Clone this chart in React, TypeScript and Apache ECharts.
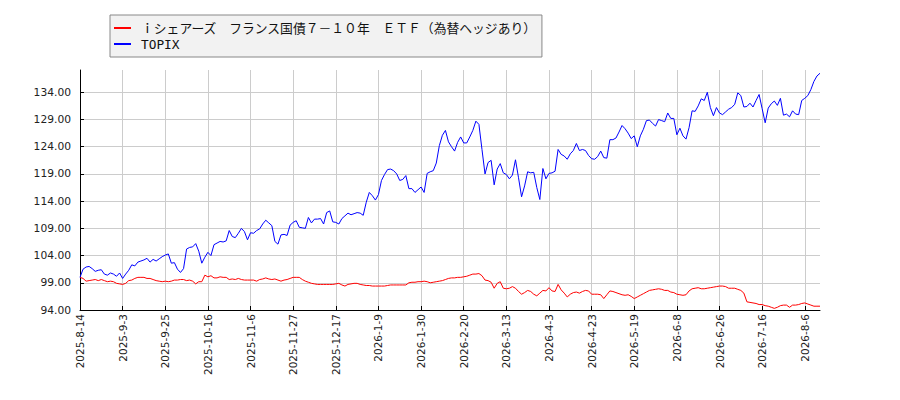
import { useEffect, useRef } from "react";
import * as echarts from "echarts";

// trading calendar (TSE): weekdays minus market holidays
const startDate = "2025-08-14";
const endDate = "2026-08-14";
const holidays = [
  "2025-09-15", "2025-09-23", "2025-10-13", "2025-11-03", "2025-11-24",
  "2025-12-31", "2026-01-01", "2026-01-02", "2026-01-12", "2026-02-11",
  "2026-02-23", "2026-03-20", "2026-04-29", "2026-05-04", "2026-05-05",
  "2026-05-06", "2026-07-20", "2026-08-11",
];

const buildDates = () => {
  const out: string[] = [];
  const day = 86400000;
  const end = Date.parse(endDate + "T00:00:00Z");
  for (let t = Date.parse(startDate + "T00:00:00Z"); t <= end; t += day) {
    const d = new Date(t);
    const wd = d.getUTCDay();
    if (wd === 0 || wd === 6) continue;
    const iso = d.toISOString().slice(0, 10);
    if (holidays.includes(iso)) continue;
    out.push(`${d.getUTCFullYear()}-${d.getUTCMonth() + 1}-${d.getUTCDate()}`);
  }
  return out;
};
const dates = buildDates();

const etfName = "ｉシェアーズ　フランス国債７－１０年　ＥＴＦ（為替ヘッジあり）";
const topixName = "TOPIX";

const etfValues = [
  100.0, 99.8, 99.3, 99.4, 99.5, 99.6, 99.4, 99.6, 99.4, 99.2,
  99.3, 99.2, 98.9, 98.8, 98.7, 98.9, 99.4, 99.5, 99.8, 100.0,
  100.0, 100.0, 99.8, 99.8, 99.6, 99.4, 99.3, 99.2, 99.3, 99.2,
  99.3, 99.5, 99.5, 99.6, 99.6, 99.4, 99.5, 99.3, 98.8, 99.2,
  99.2, 100.4, 100.1, 100.3, 99.9, 99.9, 100.1, 100.0, 100.0, 99.6,
  99.7, 99.6, 99.8, 99.6, 99.5, 99.5, 99.5, 99.5, 99.3, 99.6,
  99.7, 99.9, 99.7, 99.6, 99.7, 99.5, 99.3, 99.5, 99.6, 99.8,
  100.0, 100.0, 100.0, 99.6, 99.3, 99.1, 98.9, 98.8, 98.7, 98.7,
  98.7, 98.7, 98.7, 98.7, 98.8, 98.9, 98.6, 98.4, 98.7, 98.8,
  98.9, 98.9, 98.7, 98.6, 98.5, 98.5, 98.4, 98.4, 98.4, 98.4,
  98.4, 98.5, 98.6, 98.6, 98.6, 98.6, 98.6, 98.6, 99.0, 99.1,
  99.1, 99.2, 99.2, 99.3, 99.2, 99.0, 99.1, 99.2, 99.3, 99.4,
  99.6, 99.8, 99.9, 99.9, 100.0, 100.0, 100.1, 100.2, 100.4, 100.6,
  100.6, 100.7, 100.3, 99.5, 99.4, 99.1, 98.0, 98.9, 99.2, 98.0,
  97.9, 98.0, 98.3, 98.0, 97.4, 96.9, 97.2, 97.6, 97.4, 96.9,
  96.6, 97.1, 97.6, 97.5, 98.1, 97.5, 97.4, 98.7, 97.7, 97.1,
  96.4, 96.9, 97.2, 97.3, 97.1, 97.4, 97.6, 97.5, 96.9, 96.9,
  96.9, 96.8, 96.1, 96.8, 97.5, 97.4, 97.2, 97.0, 96.8, 96.7,
  96.8, 96.5, 96.1, 96.4, 96.7, 97.0, 97.3, 97.6, 97.7, 97.8,
  97.9, 97.8, 97.6, 97.6, 97.3, 97.2, 96.9, 96.8, 96.7, 96.8,
  97.5, 97.9, 98.0, 98.1, 97.9, 97.9, 98.0, 98.1, 98.2, 98.3,
  98.4, 98.4, 98.3, 98.0, 98.0, 98.0, 97.8, 97.6, 97.1, 95.5,
  95.4, 95.3, 95.2, 95.0, 95.0, 94.8, 94.7, 94.5, 94.3, 94.5,
  94.8, 94.9, 94.9, 94.5, 94.9, 94.9, 95.0, 95.2, 95.3, 95.1,
  94.9, 94.7, 94.7, 94.7,
];

const topixValues = [
  100.0, 101.5, 101.9, 102.0, 101.6, 101.1, 101.3, 101.4, 100.6, 100.4,
  100.8, 100.6, 100.2, 100.8, 99.8, 100.6, 101.3, 102.3, 102.1, 102.8,
  103.0, 103.2, 103.5, 102.8, 103.3, 103.0, 103.4, 103.8, 104.1, 104.3,
  102.6, 102.7, 101.5, 100.9, 101.6, 105.2, 105.5, 105.6, 106.2, 104.8,
  102.6, 103.7, 104.6, 104.0, 106.0, 106.3, 106.6, 106.5, 106.7, 108.6,
  107.5, 107.3, 108.1, 109.0, 108.4, 106.9, 108.2, 108.1, 108.6, 108.9,
  109.8, 110.5, 110.0, 109.5, 106.6, 106.1, 107.8, 107.9, 107.7, 109.6,
  110.1, 110.4, 109.2, 109.1, 109.0, 111.0, 110.0, 110.7, 110.7, 110.8,
  109.8, 111.9, 112.2, 110.2, 110.1, 109.8, 110.8, 111.3, 111.8, 111.5,
  111.7, 111.9, 111.8, 111.4, 113.8, 115.6, 115.0, 114.2, 115.2, 117.8,
  118.9, 119.8, 119.9, 119.6, 119.0, 117.8, 118.0, 118.7, 116.3, 116.3,
  115.6, 116.1, 116.6, 115.6, 119.1, 119.4, 119.6, 121.0, 124.2, 126.1,
  127.0, 124.9, 124.0, 123.2, 124.8, 125.8, 124.7, 124.7, 125.8, 127.0,
  128.7, 128.1, 123.5, 119.0, 121.1, 121.5, 117.0, 119.9, 120.9, 119.2,
  118.9, 118.1, 118.8, 121.6, 118.3, 114.8, 116.8, 119.4, 119.2, 119.3,
  116.5, 114.3, 120.0, 118.1, 119.1, 119.2, 119.5, 123.5, 122.6, 122.3,
  121.7, 122.7, 123.3, 124.6, 123.3, 123.5, 123.3, 122.4, 121.8, 121.7,
  122.2, 123.2, 122.0, 121.9, 125.3, 125.3, 125.6, 126.7, 127.9, 127.3,
  126.5, 125.5, 126.0, 124.0, 126.0, 127.2, 128.8, 128.9, 128.3, 127.8,
  129.0, 128.8, 128.6, 130.2, 129.2, 129.2, 126.2, 127.4, 126.0, 125.4,
  127.5, 130.6, 130.5, 131.5, 132.8, 132.5, 134.0, 131.2, 129.7, 131.2,
  130.2, 129.9, 130.4, 130.9, 131.2, 131.8, 133.9, 133.4, 131.3, 131.4,
  132.0, 131.3, 132.5, 133.6, 131.0, 128.4, 131.1, 131.9, 132.4, 131.6,
  132.9, 129.8, 130.0, 129.5, 130.6, 130.0, 129.9, 132.5, 132.9, 133.4,
  134.5, 136.0, 137.0, 137.5,
];

// value axis: ticks 94.00 .. 134.00 every 5, top of plot a little above
const yMin = 94;
const yMax = 138.1;
const yStep = 5;
const labelEvery = 14;

const App = () => {
  const chartRef = useRef<HTMLDivElement>(null);

  useEffect(() => {
    if (!chartRef.current) return;
    const chart = echarts.init(chartRef.current, undefined, { renderer: "svg" });
    const gridColors = [
      "#cccccc", "#cccccc", "#cccccc", "#cccccc", "#cccccc",
      "#cccccc", "#cccccc", "#cccccc", "#cccccc", "rgba(0,0,0,0)",
    ];
    chart.setOption({
      animation: false,
      backgroundColor: "#ffffff",
      grid: { left: 80, right: 80, top: 70, bottom: 90, containLabel: false },
      legend: {
        orient: "vertical",
        left: 110,
        top: 15,
        padding: [5, 5, 5, 4],
        itemGap: 0,
        itemWidth: 17,
        itemHeight: 2,
        icon: "rect",
        backgroundColor: "#f2f2f2",
        borderColor: "#888888",
        borderWidth: 1,
        borderRadius: 0,
        textStyle: {
          fontFamily: "'DejaVu Sans Mono', 'Noto Sans CJK JP'",
          fontSize: 12.8,
          lineHeight: 16,
          color: "#111111",
          padding: [0, 0, 0, 5],
        },
        data: [etfName, topixName],
      },
      xAxis: {
        type: "category",
        data: dates,
        boundaryGap: false,
        axisLine: { show: true, lineStyle: { color: "#000000", width: 1 } },
        axisTick: { show: true, inside: true, length: 4, interval: labelEvery - 1, lineStyle: { color: "#000000" } },
        axisLabel: {
          interval: labelEvery - 1,
          rotate: 90,
          margin: 4,
          fontFamily: "DejaVu Sans",
          fontSize: 10.5,
          color: "#222222",
        },
        splitLine: { show: true, interval: labelEvery - 1, lineStyle: { color: "#cccccc", width: 1 } },
      },
      yAxis: {
        type: "value",
        min: yMin,
        max: yMax,
        interval: yStep,
        axisLine: { show: true, lineStyle: { color: "#000000", width: 1 } },
        axisTick: { show: true, inside: true, length: 4, lineStyle: { color: "#000000" } },
        axisLabel: {
          showMaxLabel: false,
          margin: 9,
          fontFamily: "DejaVu Sans",
          fontSize: 10.7,
          color: "#222222",
          formatter: (v: number) => v.toFixed(2),
        },
        splitLine: { show: true, lineStyle: { color: gridColors, width: 1 } },
      },
      series: [
        {
          name: etfName,
          type: "line",
          data: etfValues,
          symbol: "none",
          color: "#ff0000",
          lineStyle: { color: "#ff0000", width: 1 },
        },
        {
          name: topixName,
          type: "line",
          data: topixValues,
          symbol: "none",
          color: "#0000ff",
          lineStyle: { color: "#0000ff", width: 1 },
        },
      ],
    });
    return () => {
      chart.dispose();
    };
  }, []);

  return (
    <div
      ref={chartRef}
      style={{ position: "fixed", left: 0, top: 0, width: 900, height: 400 }}
    ></div>
  );
};

export default App;
